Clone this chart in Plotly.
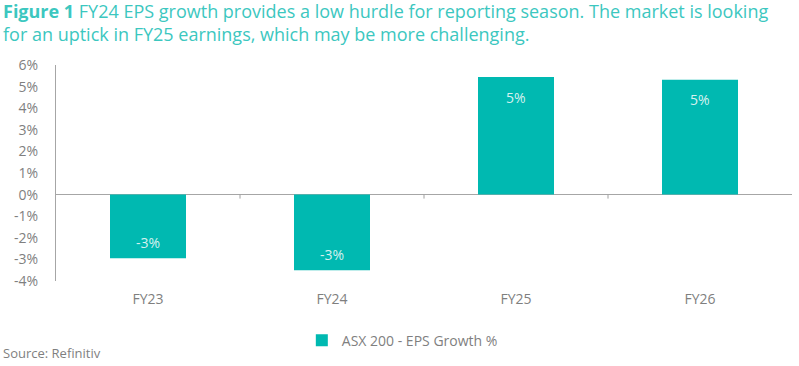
import plotly.graph_objects as go

categories = ["FY23", "FY24", "FY25", "FY26"]
eps_growth = [-2.95, -3.5, 5.44, 5.32]
bar_labels = ["-3%", "-3%", "5%", "5%"]
y_tickvals = [-4, -3, -2, -1, 0, 1, 2, 3, 4, 5, 6]
y_ticktext = [f"{v}%" for v in y_tickvals]
series_name = "ASX 200 - EPS Growth %"
title_text = ("<b>Figure 1</b> FY24 EPS growth provides a low hurdle for reporting season. "
              "The market is looking<br>for an uptick in FY25 earnings, which may be more challenging.")
source_text = "Source: Refinitiv"

teal = "#00B9B1"
gray = "#7f7f7f"
FONT = "Open Sans"

fig = go.Figure()
fig.add_trace(go.Bar(
    x=categories, y=eps_growth, name=series_name,
    marker=dict(color=teal, line=dict(width=0)),
    width=0.413,
))

annotations = []
for c, v, t in zip(categories, eps_growth, bar_labels):
    annotations.append(dict(x=c, y=v, xref="x", yref="y", text=t, showarrow=False,
                            yanchor="middle", yshift=(-20 if v > 0 else 16),
                            font=dict(family=FONT, size=14, color="#d6f1ef")))

annotations.append(dict(text=title_text, xref="paper", yref="paper",
                        x=-0.075, y=1.196, xanchor="left", yanchor="middle", align="left",
                        showarrow=False, font=dict(family=FONT, size=18, color="#3CC7BF")))
annotations.append(dict(text=source_text, xref="paper", yref="paper",
                        x=-0.075, y=-0.333, xanchor="left", yanchor="middle",
                        showarrow=False, font=dict(size=13, color=gray, family=FONT)))

# small category-boundary ticks on the zero line
for b in [0.5, 1.5, 2.5]:
    fig.add_shape(type="line", xref="x", yref="y", x0=b, x1=b,
                  ysizemode="pixel", yanchor=0, y0=0, y1=-4,
                  line=dict(color="#a0a0a0", width=1))

fig.update_layout(
    width=799, height=366,
    margin=dict(l=56, r=7, t=65, b=85),
    paper_bgcolor="white", plot_bgcolor="white",
    font=dict(family=FONT, color=gray, size=14),
    showlegend=True,
    legend=dict(orientation="h", x=0.334, xanchor="left", y=-0.202, yanchor="top",
                font=dict(size=14, color=gray, family=FONT), bgcolor="rgba(0,0,0,0)"),
    bargap=0.587,
    annotations=annotations,
)
fig.update_xaxes(showgrid=False, showline=False, zeroline=False, ticks="",
                 ticklabelstandoff=8,
                 tickfont=dict(size=14, color=gray), range=[-0.5, 3.5])
fig.update_yaxes(range=[-4, 6], tickvals=y_tickvals, ticktext=y_ticktext,
                 showgrid=False, zeroline=True, zerolinecolor="#a6a6a6", zerolinewidth=1,
                 showline=True, linecolor="#a6a6a6", linewidth=1,
                 ticks="", ticklabelstandoff=14, tickfont=dict(size=14, color=gray))

fig.write_html("out.html", config={"displayModeBar": False},
               post_script="document.body.style.margin='0px';")
